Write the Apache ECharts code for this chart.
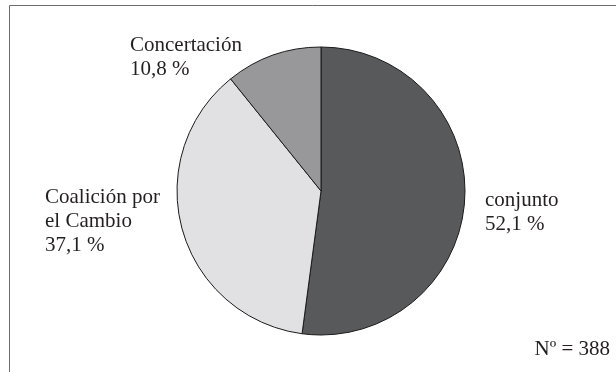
<!DOCTYPE html>
<html><head><meta charset="utf-8">
<script src="https://cdn.jsdelivr.net/npm/echarts@6/dist/echarts.min.js"></script>
<style>html,body{margin:0;padding:0;background:#fff}#c{width:616px;height:372px}</style>
</head><body><div id="c"></div>
<script>
const categories = ['conjunto', 'Coalición por\nel Cambio', 'Concertación'];
const values = [52.1, 37.1, 10.8];
const sliceColors = ['#58595b', '#e1e1e3', '#98989a'];
const sampleNote = 'Nº = 388';

function fmt(v){ return v.toFixed(1).replace('.', ',') + ' %'; }

const labelPos = [ {x:485, y:188}, {x:45, y:185}, {x:130, y:33} ];
const font = '"Liberation Serif", "DejaVu Serif", serif';

const chart = echarts.init(document.getElementById('c'), null, {renderer:'canvas'});
const graphics = [
  {type:'line', shape:{x1:9.5,y1:5.5,x2:616,y2:5.5}, style:{stroke:'#6d6d6d', lineWidth:1}},
  {type:'line', shape:{x1:9.5,y1:5.5,x2:9.5,y2:372}, style:{stroke:'#6d6d6d', lineWidth:1}},
  {type:'text', right:6, top:337, style:{text:sampleNote, font:'21px ' + font, lineHeight:24, fill:'#231f20'}}
];
categories.forEach((c,i)=>{
  graphics.push({type:'text', left:labelPos[i].x, top:labelPos[i].y,
    style:{text:c + '\n' + fmt(values[i]), font:'21px ' + font, lineHeight:24, fill:'#231f20'}});
});

chart.setOption({
  animation:false,
  graphic: graphics,
  series:[{
    type:'pie',
    center:[321,191],
    radius:144,
    startAngle:90,
    clockwise:true,
    label:{show:false},
    labelLine:{show:false},
    itemStyle:{borderColor:'#1a1a1a', borderWidth:1},
    emphasis:{disabled:true},
    data: categories.map((c,i)=>({name:c, value:values[i], itemStyle:{color:sliceColors[i]}}))
  }]
});
</script></body></html>
